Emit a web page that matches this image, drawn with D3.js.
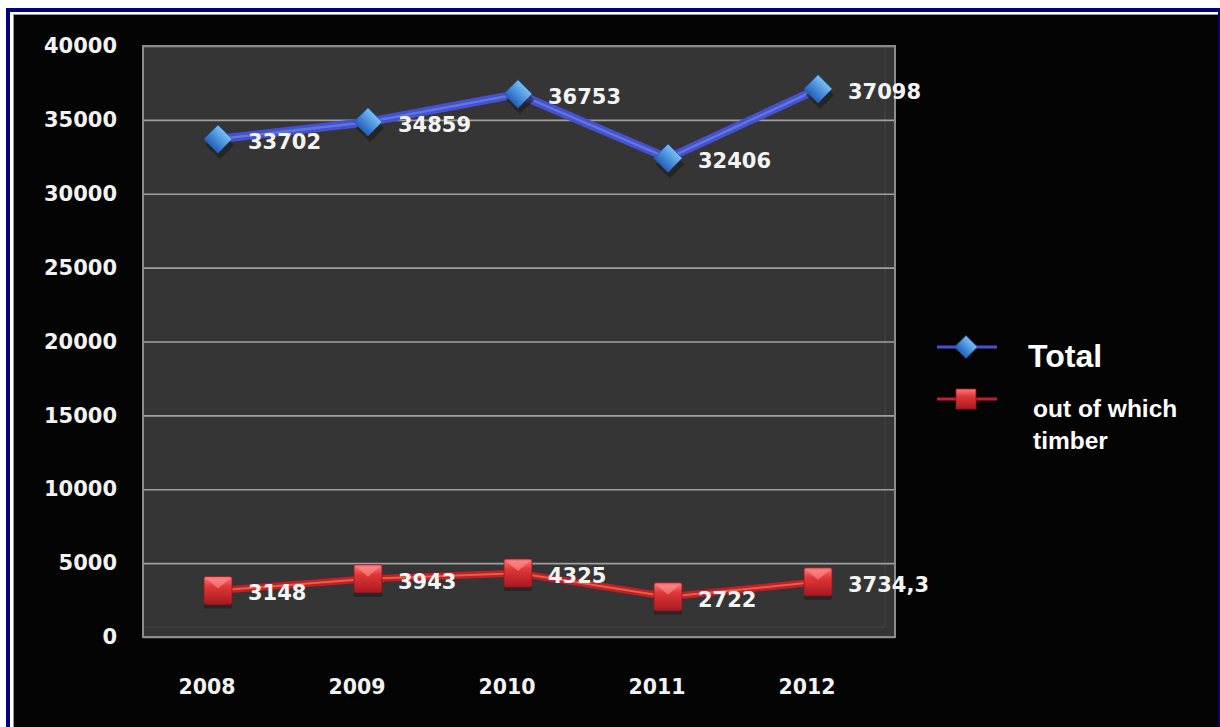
<!DOCTYPE html>
<html>
<head>
<meta charset="utf-8">
<script src="https://cdn.jsdelivr.net/npm/d3@7"></script>
<style>
  html, body { margin: 0; padding: 0; background: #ffffff; }
  svg { display: block; }
</style>
</head>
<body>
<svg id="chart" width="1220" height="727"></svg>
<script>
// ---- data ----
const years = ["2008", "2009", "2010", "2011", "2012"];
const totalValues = [33702, 34859, 36753, 32406, 37098];
const timberValues = [3148, 3943, 4325, 2722, 3734.3];
const yTicks = [0, 5000, 10000, 15000, 20000, 25000, 30000, 35000, 40000];
const seriesNames = ["Total", "out of which timber"];

const svg = d3.select("#chart");
const W = 1220, H = 727;

// ---- frame ----
svg.append("rect").attr("x", 6).attr("y", 8).attr("width", W - 6).attr("height", H).attr("fill", "#000080");
svg.append("rect").attr("x", 10).attr("y", 12).attr("width", 1208).attr("height", H).attr("fill", "#ffffff");
svg.append("rect").attr("x", 13).attr("y", 14).attr("width", 1205).attr("height", H).attr("fill", "#9a9a9a");
svg.append("rect").attr("x", 14).attr("y", 15).attr("width", 1204).attr("height", H).attr("fill", "#040404");

// ---- scales ----
const plot = { left: 143, right: 895, top: 46, bottom: 637 };
const x = d3.scaleBand().domain(years).range([plot.left, plot.right - 2]);
const y = d3.scaleLinear().domain([0, 40000]).range([plot.bottom, plot.top]);
const cx = d => x(d) + x.bandwidth() / 2;

const defs = svg.append("defs");
const gBlue = defs.append("linearGradient").attr("id", "gBlue").attr("x1", 0).attr("y1", 0).attr("x2", 0).attr("y2", 1);
gBlue.append("stop").attr("offset", "0%").attr("stop-color", "#79c0f2");
gBlue.append("stop").attr("offset", "50%").attr("stop-color", "#4a90dc");
gBlue.append("stop").attr("offset", "100%").attr("stop-color", "#2560b8");
const gRed = defs.append("linearGradient").attr("id", "gRed").attr("x1", 0).attr("y1", 0).attr("x2", 0).attr("y2", 1);
gRed.append("stop").attr("offset", "0%").attr("stop-color", "#ff7a7a");
gRed.append("stop").attr("offset", "35%").attr("stop-color", "#e03838");
gRed.append("stop").attr("offset", "100%").attr("stop-color", "#a81820");

// ---- plot area ----
svg.append("rect")
  .attr("x", plot.left).attr("y", plot.top)
  .attr("width", plot.right - plot.left).attr("height", plot.bottom - plot.top)
  .attr("fill", "#353535");
// faint inner frame
svg.append("line").attr("x1", plot.left).attr("x2", plot.right - 10).attr("y1", plot.bottom - 10).attr("y2", plot.bottom - 10)
  .attr("stroke", "#474747").attr("stroke-width", 1);
svg.append("line").attr("x1", plot.right - 10).attr("x2", plot.right - 10).attr("y1", plot.top).attr("y2", plot.bottom - 10)
  .attr("stroke", "#474747").attr("stroke-width", 1);

// gridlines
svg.append("g")
  .attr("transform", `translate(${plot.left},0)`)
  .call(d3.axisLeft(y).tickValues(yTicks).tickSize(-(plot.right - plot.left)).tickFormat(""))
  .call(g => g.select(".domain").remove())
  .call(g => g.selectAll("line").attr("stroke", "#a0a0a0").attr("stroke-width", 1.6));

// plot border
svg.append("rect")
  .attr("x", plot.left).attr("y", plot.top)
  .attr("width", plot.right - plot.left).attr("height", plot.bottom - plot.top)
  .attr("fill", "none").attr("stroke", "#8c8c8c").attr("stroke-width", 2);

// y axis labels
svg.append("g")
  .attr("transform", `translate(${plot.left},0)`)
  .call(d3.axisLeft(y).tickValues(yTicks).tickSize(0).tickPadding(26).tickFormat(d3.format("d")))
  .call(g => g.select(".domain").remove())
  .call(g => g.selectAll("text")
    .attr("fill", "#f2f2f2")
    .attr("font-family", "DejaVu Sans")
    .attr("font-weight", "bold")
    .attr("font-size", "21px"));

// x axis labels
svg.append("g")
  .attr("transform", `translate(-11,${plot.bottom})`)
  .call(d3.axisBottom(x).tickSize(0).tickPadding(42))
  .call(g => g.select(".domain").remove())
  .call(g => g.selectAll("text")
    .attr("fill", "#f2f2f2")
    .attr("font-family", "DejaVu Sans")
    .attr("font-weight", "bold")
    .attr("font-size", "20.5px"));

// ---- series ----
const line = d3.line().x((d, i) => cx(years[i])).y(d => y(d));

// blue
svg.append("path").datum(totalValues).attr("d", line)
  .attr("fill", "none").attr("stroke", "#4a4ed0").attr("stroke-width", 8.5).attr("stroke-linejoin", "round");
svg.append("path").datum(totalValues).attr("d", line)
  .attr("fill", "none").attr("stroke", "#5b8ee0").attr("stroke-width", 2.5).attr("opacity", 0.7);
// red
svg.append("path").datum(timberValues).attr("d", line)
  .attr("fill", "none").attr("stroke", "#c41c30").attr("stroke-width", 7).attr("stroke-linejoin", "round");
svg.append("path").datum(timberValues).attr("d", line)
  .attr("fill", "none").attr("stroke", "#e67a3a").attr("stroke-width", 2).attr("opacity", 0.8);

const diamond = d3.symbol().type(d3.symbolSquare).size(400);

// shadows
svg.append("g").selectAll("path").data(totalValues).join("path")
  .attr("d", diamond)
  .attr("transform", (d, i) => `translate(${cx(years[i]) + 2},${y(d) + 6}) rotate(45)`)
  .attr("fill", "#1a1a1a").attr("opacity", 0.6);
svg.append("g").selectAll("rect").data(timberValues).join("rect")
  .attr("x", (d, i) => cx(years[i]) - 14).attr("y", d => y(d) - 10)
  .attr("width", 28).attr("height", 28).attr("rx", 2)
  .attr("fill", "#1a1a1a").attr("opacity", 0.55);

// blue markers
svg.append("g").selectAll("path").data(totalValues).join("path")
  .attr("d", diamond)
  .attr("transform", (d, i) => `translate(${cx(years[i])},${y(d)}) rotate(45)`)
  .attr("fill", "url(#gBlue)").attr("stroke", "#2a5aa8").attr("stroke-width", 0.8);

// red markers
const redG = svg.append("g").selectAll("g").data(timberValues).join("g")
  .attr("transform", (d, i) => `translate(${cx(years[i])},${y(d)})`);
redG.append("rect").attr("x", -14).attr("y", -14).attr("width", 28).attr("height", 28).attr("rx", 2)
  .attr("fill", "url(#gRed)").attr("stroke", "#9a1420").attr("stroke-width", 0.8);
redG.append("path").attr("d", "M-12,-12 L12,-12 L0,-2 Z").attr("fill", "#ff9a9a").attr("opacity", 0.55);

// data labels
const fmt = d3.formatLocale({ decimal: ",", thousands: "", grouping: [3], currency: ["", ""] }).format("~f");
function labels(values) {
  svg.append("g").selectAll("text").data(values).join("text")
    .attr("x", (d, i) => cx(years[i]) + 30)
    .attr("y", d => y(d) + 3)
    .attr("dominant-baseline", "central")
    .attr("fill", "#f4f4f4")
    .attr("font-family", "DejaVu Sans")
    .attr("font-weight", "bold")
    .attr("font-size", "21px")
    .text(d => fmt(d));
}
labels(totalValues);
labels(timberValues);

// ---- legend ----
const lg = svg.append("g");
// Total
lg.append("line").attr("x1", 937).attr("x2", 997).attr("y1", 347).attr("y2", 347)
  .attr("stroke", "#4a4ed0").attr("stroke-width", 3);
lg.append("path").attr("d", d3.symbol().type(d3.symbolSquare).size(260))
  .attr("transform", "translate(966,347) rotate(45)")
  .attr("fill", "url(#gBlue)").attr("stroke", "#2a5aa8").attr("stroke-width", 0.8);
lg.append("text").attr("x", 1028).attr("y", 367)
  .attr("fill", "#ffffff").attr("font-family", "Liberation Sans, Arial, sans-serif")
  .attr("font-weight", "bold").attr("font-size", "32px").text(seriesNames[0]);
// timber
lg.append("line").attr("x1", 937).attr("x2", 997).attr("y1", 399).attr("y2", 399)
  .attr("stroke", "#c41c30").attr("stroke-width", 3);
lg.append("rect").attr("x", 956).attr("y", 389).attr("width", 20).attr("height", 20)
  .attr("fill", "url(#gRed)").attr("stroke", "#9a1420").attr("stroke-width", 0.8);
const words = seriesNames[1].split(" ");
const t2 = lg.append("text").attr("fill", "#ffffff")
  .attr("font-family", "Liberation Sans, Arial, sans-serif")
  .attr("font-weight", "bold").attr("font-size", "24.5px");
t2.append("tspan").attr("x", 1033).attr("y", 417).text(words.slice(0, 3).join(" "));
t2.append("tspan").attr("x", 1033).attr("y", 449).text(words.slice(3).join(" "));
</script>
</body>
</html>
